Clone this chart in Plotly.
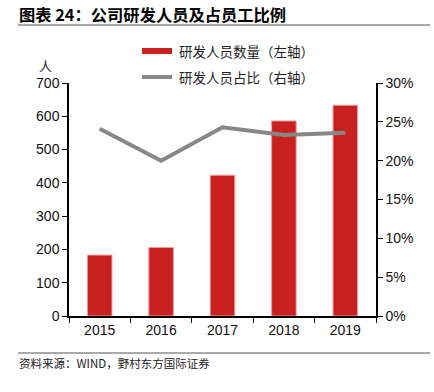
import plotly.graph_objects as go

years = ["2015", "2016", "2017", "2018", "2019"]
rd_staff = [183, 206, 423, 586, 633]
rd_ratio = [24.1, 20.0, 24.3, 23.3, 23.6]

left_ticks = [0, 100, 200, 300, 400, 500, 600, 700]
right_ticks = [0, 5, 10, 15, 20, 25, 30]

W, H = 434, 392
L, R, T, B = 69, 58, 83, 76

RED = "#C8211F"
GREY = "#878787"
CJK = "Noto Sans CJK SC"
LAT = "Liberation Sans"

fig = go.Figure()
fig.add_trace(go.Bar(
    x=years, y=rd_staff, name="研发人员数量（左轴）",
    marker=dict(color=RED, line=dict(color="#E8A0A0", width=1)),
    width=0.4, yaxis="y"))
fig.add_trace(go.Scatter(
    x=years, y=rd_ratio, name="研发人员占比（右轴）", mode="lines",
    line=dict(color=GREY, width=4), yaxis="y2"))


def xp(x):
    return (x - L) / (W - L - R)


def yp(y):
    return (H - B - y) / (H - T - B)


shapes = []
shapes.append(dict(type="line", xref="paper", yref="paper", x0=xp(18), x1=xp(430), y0=yp(25), y1=yp(25),
                   line=dict(color="#8C8C8C", width=1.5)))
shapes.append(dict(type="line", xref="paper", yref="paper", x0=xp(18), x1=xp(430), y0=yp(353), y1=yp(353),
                   line=dict(color="#8C8C8C", width=1.5)))
shapes.append(dict(type="rect", xref="paper", yref="paper", x0=xp(142), x1=xp(172), y0=yp(48), y1=yp(54),
                   fillcolor=RED, line=dict(width=0)))
shapes.append(dict(type="line", xref="paper", yref="paper", x0=xp(142), x1=xp(172), y0=yp(77), y1=yp(77),
                   line=dict(color=GREY, width=4)))

annotations = [
    dict(text="<b>图表 24：公司研发人员及占员工比例</b>", xref="paper", yref="paper", x=xp(17), y=yp(14),
         xanchor="left", yanchor="middle", showarrow=False, font=dict(family=CJK, size=16.3, color="#000")),
    dict(text="研发人员数量（左轴）", xref="paper", yref="paper", x=xp(177), y=yp(51),
         xanchor="left", yanchor="middle", showarrow=False, font=dict(family=CJK, size=13.5, color="#222")),
    dict(text="研发人员占比（右轴）", xref="paper", yref="paper", x=xp(177), y=yp(77),
         xanchor="left", yanchor="middle", showarrow=False, font=dict(family=CJK, size=13.5, color="#222")),
    dict(text="人", xref="paper", yref="paper", x=xp(45), y=yp(65),
         xanchor="center", yanchor="middle", showarrow=False, font=dict(family=CJK, size=13, color="#222")),
    dict(text="资料来源：WIND，野村东方国际证券", xref="paper", yref="paper", x=xp(17), y=yp(363),
         xanchor="left", yanchor="middle", showarrow=False, font=dict(family=CJK, size=11.5, color="#222")),
]

fig.update_layout(
    width=W, height=H,
    margin=dict(l=L, r=R, t=T, b=B, pad=0),
    plot_bgcolor="white", paper_bgcolor="white",
    showlegend=False,
    shapes=shapes,
    annotations=annotations,
    xaxis=dict(type="category", showline=True, linecolor="#000", linewidth=1.5,
               ticks="outside", ticklen=5, tickcolor="#000", tickson="boundaries",
               showgrid=False, tickfont=dict(family=LAT, size=14, color="#111")),
    yaxis=dict(range=[0, 700], tickvals=left_ticks, showline=True, linecolor="#000", linewidth=1.5,
               ticks="outside", ticklen=5, tickcolor="#000", showgrid=False, zeroline=False,
               tickfont=dict(family=LAT, size=14, color="#111")),
    yaxis2=dict(range=[0, 30], tickvals=right_ticks, ticktext=[f"{v}%" for v in right_ticks],
                overlaying="y", side="right", showline=True, linecolor="#000", linewidth=1.5,
                ticks="outside", ticklen=5, tickcolor="#000", showgrid=False, zeroline=False,
                tickfont=dict(family=LAT, size=14, color="#111")),
)

fig.write_html("out.html", config={"displayModeBar": False},
               post_script="document.body.style.margin='0';")
